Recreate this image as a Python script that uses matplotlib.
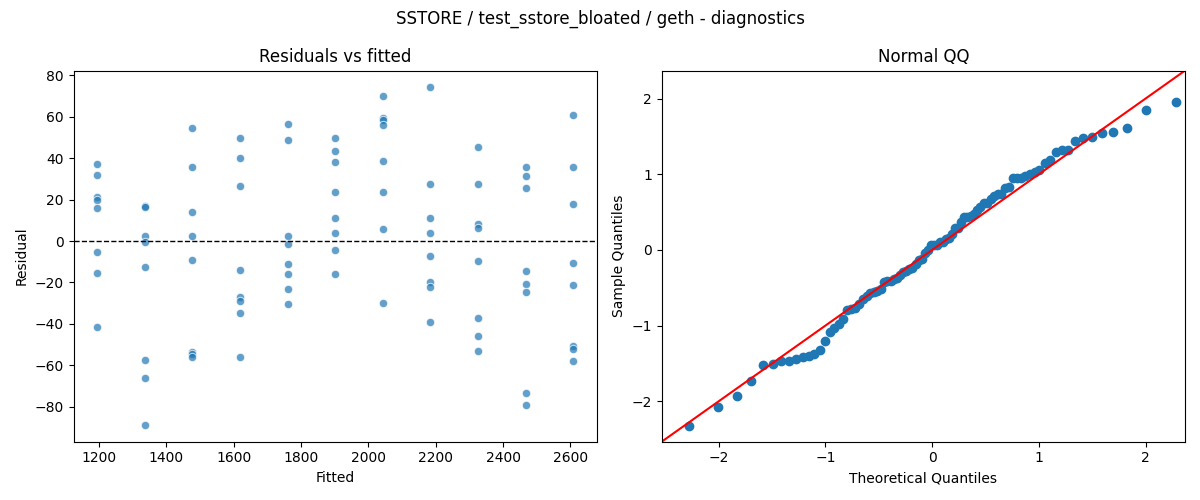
import matplotlib
matplotlib.use("Agg")
import matplotlib.pyplot as plt
import numpy as np
from statistics import NormalDist

# fitted value for each group of runs
fitted_levels = [1195, 1336, 1477, 1619, 1760, 1901, 2043, 2184, 2325, 2467, 2608]

# residuals per fitted level
residual_groups = [
    [37.0, 31.7, 21.4, 19.8, 16.2, -5.4, -15.6, -41.6],
    [16.7, 16.3, 2.4, -0.3, -12.7, -57.5, -66.2, -88.8],
    [54.8, 36.0, 13.8, 2.4, -9.3, -53.8, -54.8, -56.1],
    [50.0, 39.9, 26.8, -14.0, -27.1, -29.1, -34.8, -56.1],
    [56.7, 49.0, 2.4, -1.6, -11.2, -16.1, -23.3, -30.5],
    [50.0, 43.7, 38.1, 23.5, 10.9, 3.7, -4.5, -15.9],
    [70.2, 59.3, 58.5, 55.9, 38.9, 23.5, 5.6, -29.9],
    [74.2, 27.8, 10.9, 3.7, -7.4, -19.8, -22.0, -39.2],
    [45.2, 27.8, 8.0, 6.1, -9.8, -37.3, -45.9, -53.2],
    [36.0, 31.2, 25.4, -14.6, -20.9, -24.7, -73.4, -79.2],
    [61.1, 36.0, 17.7, -10.8, -21.3, -50.6, -52.2, -58.0],
]

title = "SSTORE / test_sstore_bloated / geth - diagnostics"

fitted = np.repeat(fitted_levels, [len(g) for g in residual_groups])
resid = np.concatenate([np.array(g, dtype=float) for g in residual_groups])

fig, (ax1, ax2) = plt.subplots(1, 2, figsize=(12, 5), dpi=100)

# residuals vs fitted
ax1.scatter(fitted, resid, s=36, alpha=0.7, color="C0", edgecolors="white", linewidths=0.75)
ax1.axhline(0, color="black", linestyle="--", linewidth=1)
ax1.set_xlabel("Fitted")
ax1.set_ylabel("Residual")
ax1.set_title("Residuals vs fitted")

# normal QQ with standardized residuals
n = len(resid)
sample_q = np.sort((resid - resid.mean()) / resid.std())
probs = np.arange(1, n + 1) / (n + 1)
theo_q = np.array([NormalDist().inv_cdf(p) for p in probs])
ax2.plot(theo_q, sample_q, marker="o", linestyle="none",
         markerfacecolor="C0", markeredgecolor="C0")
lims = [-2.535, 2.37]
ax2.plot(lims, lims, "r-")
ax2.set_xlim(lims)
ax2.set_ylim(lims)
ax2.set_xlabel("Theoretical Quantiles")
ax2.set_ylabel("Sample Quantiles")
ax2.set_title("Normal QQ")

fig.suptitle(title)
fig.tight_layout()
fig.savefig("out.png")
